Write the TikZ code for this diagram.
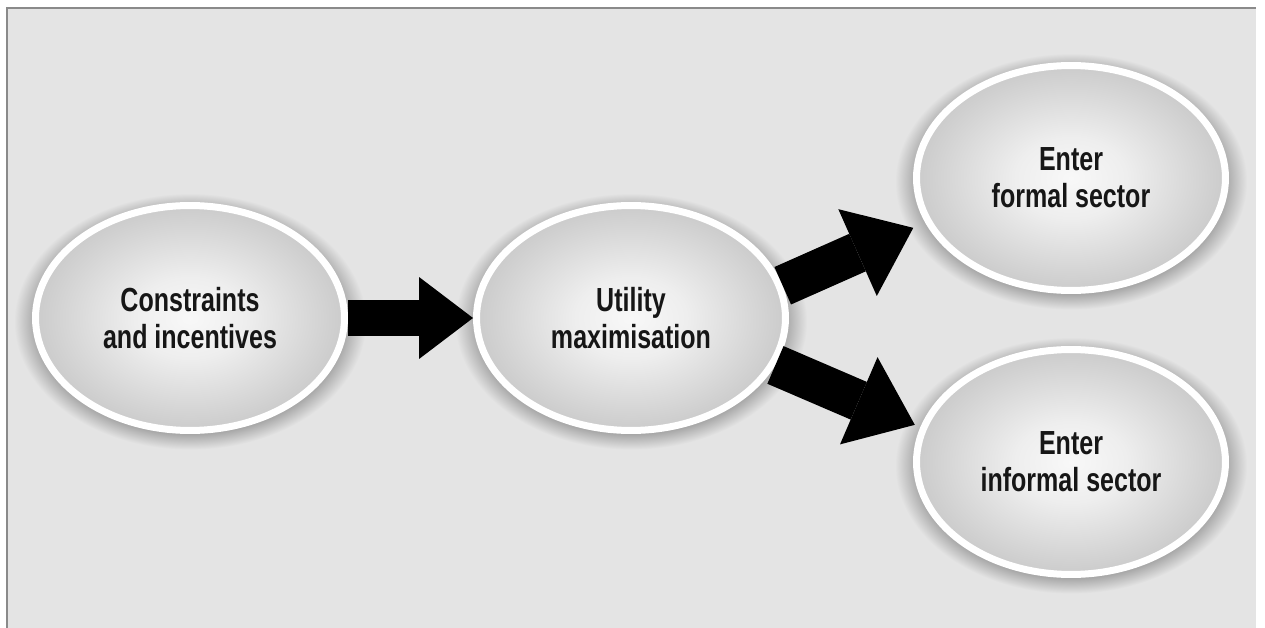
\documentclass[tikz,border=0pt]{standalone}
\usepackage{fontspec}
\newfontfamily\labelfont{Liberation Sans}[FakeStretch=0.75]
\usetikzlibrary{arrows.meta, shapes.geometric, shadows}
\usepackage{xcolor}
\definecolor{panelgray}{HTML}{E4E4E4}
\definecolor{framegray}{HTML}{8A8A8A}
\definecolor{halogray}{HTML}{A4A4A4}
\definecolor{coregray}{HTML}{F8F8F8}
\definecolor{midgray}{HTML}{EEEEEE}
\definecolor{rimgray}{HTML}{CBCBCB}
\definecolor{textdark}{HTML}{161616}
\pgfdeclareradialshading{halo}{\pgfpointorigin}{color(0bp)=(halogray); color(21.8bp)=(halogray); color(25bp)=(panelgray); color(50bp)=(panelgray)}
\pgfdeclareradialshading{sheen}{\pgfpointorigin}{color(0bp)=(coregray); color(9bp)=(midgray); color(25bp)=(rimgray); color(50bp)=(rimgray)}

\begin{document}
\begin{tikzpicture}[
  x=0.02cm, y=-0.02cm,
  stage/.style={
    ellipse, minimum width=6.18cm, minimum height=4.5cm, inner sep=0pt,
    draw=white, line width=0.14cm, shade, shading=sheen,
    general shadow={shadow scale=1.14, shadow yshift=-0.06cm, shade, shading=halo},
    font=\labelfont\bfseries\fontsize{19}{21}\selectfont,
    text=textdark, align=center
  },
  flow/.style={-{Triangle[length=1.08cm, width=1.64cm, line width=0pt]}, line width=0.74cm},
  branch/.style={-{Triangle[length=1.22cm, width=1.9cm, line width=0pt]}, line width=0.82cm}
]
  \useasboundingbox (0,0) rectangle (1265,628);
  \fill[panelgray] (7,8) rectangle (1256,628);
  \draw[framegray, line width=0.04cm] (7,628) -- (7,8) -- (1256,8);

  \node[stage] (limits) at (190,318) {Constraints\\and incentives};
  \node[stage] (utility) at (631,318) {Utility\\maximisation};
  \node[stage] (formal) at (1071,178) {Enter\\formal sector};
  \node[stage] (informal) at (1071,462) {Enter\\informal sector};

  \draw[flow] (limits.east) -- (utility.west);
  \draw[branch, shorten >=0.26cm] (utility.12.7) -- (formal.197.2);
  \draw[branch, shorten >=0.12cm] (utility.-18.8) -- (informal.167.9);
\end{tikzpicture}
\end{document}
